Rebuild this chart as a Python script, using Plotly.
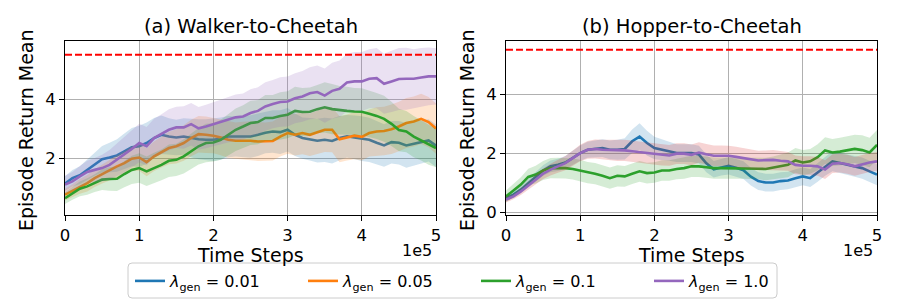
import plotly.graph_objects as go

# ---------------- data ----------------
steps = [i * 10000 for i in range(51)]
target_return = 5.5

legend_names = ["0.01", "0.05", "0.1", "1.0"]

# (a) Walker-to-Cheetah
walker_blue = [1.13, 1.32, 1.42, 1.60, 1.80, 1.96, 2.02, 2.09, 2.23, 2.37, 2.40, 2.51, 2.68, 2.79, 2.73,
               2.70, 2.73, 2.68, 2.64, 2.62, 2.62, 2.66, 2.73, 2.73, 2.72, 2.73, 2.79, 2.86, 2.90, 2.88,
               2.96, 2.79, 2.68, 2.64, 2.59, 2.62, 2.58, 2.68, 2.74, 2.70, 2.66, 2.62, 2.52, 2.43, 2.54,
               2.52, 2.43, 2.48, 2.55, 2.60, 2.42]
walker_orange = [0.76, 0.89, 1.04, 1.15, 1.32, 1.46, 1.60, 1.72, 1.83, 1.98, 2.02, 1.86, 2.06, 2.20, 2.34,
                 2.40, 2.51, 2.68, 2.81, 2.79, 2.76, 2.70, 2.62, 2.59, 2.59, 2.59, 2.56, 2.56, 2.58, 2.73,
                 2.85, 2.79, 2.85, 2.79, 2.88, 2.96, 2.96, 2.64, 2.70, 2.76, 2.72, 2.85, 2.90, 2.92, 2.98,
                 3.07, 3.19, 3.24, 3.33, 3.22, 3.00]
walker_green = [0.64, 0.81, 0.96, 1.04, 1.15, 1.27, 1.29, 1.30, 1.46, 1.60, 1.66, 1.55, 1.66, 1.77, 1.91,
                1.94, 2.06, 2.23, 2.40, 2.51, 2.53, 2.62, 2.79, 2.96, 3.07, 3.19, 3.22, 3.36, 3.36, 3.43,
                3.47, 3.60, 3.56, 3.57, 3.66, 3.72, 3.66, 3.62, 3.60, 3.58, 3.57, 3.50, 3.43, 3.33, 3.16,
                2.95, 2.90, 2.73, 2.60, 2.45, 2.34]
walker_purple = [1.10, 1.21, 1.38, 1.53, 1.60, 1.66, 1.77, 1.94, 2.11, 2.31, 2.51, 2.40, 2.68, 2.81, 2.96,
                 3.04, 3.04, 3.15, 3.01, 3.07, 3.15, 3.22, 3.30, 3.38, 3.41, 3.53, 3.60, 3.75, 3.83, 3.90,
                 3.92, 4.03, 4.09, 4.20, 4.24, 4.12, 4.28, 4.35, 4.56, 4.60, 4.60, 4.69, 4.71, 4.52, 4.60,
                 4.68, 4.69, 4.69, 4.73, 4.77, 4.77]

walker_blue_std = [0.25, 0.28, 0.30, 0.35, 0.40, 0.45, 0.50, 0.55, 0.60, 0.65, 0.70, 0.70, 0.68, 0.65, 0.62,
                   0.60, 0.62, 0.65, 0.68, 0.70, 0.72, 0.72, 0.70, 0.68, 0.70, 0.72, 0.72, 0.70, 0.72, 0.74,
                   0.74, 0.72, 0.70, 0.72, 0.74, 0.75, 0.76, 0.75, 0.72, 0.74, 0.76, 0.75, 0.74, 0.72, 0.72,
                   0.74, 0.76, 0.75, 0.74, 0.72, 0.72]
walker_orange_std = [0.20, 0.22, 0.25, 0.28, 0.30, 0.32, 0.35, 0.38, 0.40, 0.42, 0.45, 0.48, 0.50, 0.52, 0.55,
                     0.58, 0.60, 0.62, 0.62, 0.62, 0.60, 0.60, 0.62, 0.62, 0.64, 0.66, 0.66, 0.65, 0.66, 0.68,
                     0.70, 0.70, 0.72, 0.72, 0.74, 0.75, 0.76, 0.78, 0.78, 0.80, 0.80, 0.80, 0.82, 0.82, 0.84,
                     0.84, 0.85, 0.85, 0.85, 0.85, 0.85]
walker_green_std = [0.20, 0.22, 0.25, 0.28, 0.30, 0.35, 0.40, 0.42, 0.45, 0.48, 0.50, 0.50, 0.52, 0.52, 0.55,
                    0.55, 0.58, 0.60, 0.62, 0.65, 0.65, 0.68, 0.70, 0.72, 0.72, 0.75, 0.75, 0.78, 0.78, 0.80,
                    0.80, 0.82, 0.82, 0.82, 0.82, 0.85, 0.85, 0.82, 0.82, 0.80, 0.80, 0.80, 0.78, 0.78, 0.75,
                    0.72, 0.70, 0.70, 0.68, 0.68, 0.65]
walker_purple_std = [0.30, 0.32, 0.35, 0.38, 0.40, 0.45, 0.50, 0.55, 0.60, 0.62, 0.65, 0.65, 0.65, 0.68, 0.70,
                     0.70, 0.72, 0.72, 0.72, 0.74, 0.75, 0.76, 0.76, 0.78, 0.78, 0.80, 0.80, 0.82, 0.82, 0.84,
                     0.85, 0.85, 0.86, 0.88, 0.90, 0.92, 0.95, 0.96, 0.98, 1.00, 1.00, 1.00, 1.02, 1.02, 1.04,
                     1.05, 1.05, 1.00, 1.00, 0.98, 0.95]

# (b) Hopper-to-Cheetah
hopper_blue = [0.47, 0.59, 0.76, 0.98, 1.19, 1.41, 1.55, 1.60, 1.68, 1.83, 2.00, 2.11, 2.14, 2.17, 2.11,
               2.11, 2.14, 2.40, 2.56, 2.34, 2.17, 2.11, 2.06, 2.00, 2.00, 2.00, 1.95, 1.65, 1.45, 1.52,
               1.57, 1.50, 1.42, 1.20, 1.05, 1.00, 1.00, 1.05, 1.07, 1.15, 1.21, 1.15, 1.35, 1.55, 1.72,
               1.66, 1.60, 1.55, 1.49, 1.38, 1.27]
hopper_green = [0.53, 0.73, 0.93, 1.19, 1.27, 1.41, 1.49, 1.49, 1.49, 1.46, 1.41, 1.34, 1.30, 1.23, 1.15,
                1.23, 1.21, 1.30, 1.38, 1.32, 1.34, 1.41, 1.41, 1.46, 1.49, 1.55, 1.55, 1.52, 1.49, 1.49,
                1.49, 1.49, 1.49, 1.49, 1.47, 1.46, 1.50, 1.55, 1.60, 1.75, 1.68, 1.72, 1.86, 2.09, 2.02,
                2.05, 2.09, 2.14, 2.10, 2.02, 2.28]
hopper_purple = [0.42, 0.53, 0.70, 0.89, 1.10, 1.30, 1.44, 1.55, 1.66, 1.83, 2.00, 2.11, 2.14, 2.11, 2.11,
                 2.09, 2.09, 2.06, 2.03, 2.00, 1.98, 1.94, 1.92, 1.98, 1.98, 1.94, 2.02, 1.96, 1.91, 1.91,
                 1.91, 1.87, 1.83, 1.79, 1.75, 1.76, 1.77, 1.74, 1.72, 1.60, 1.57, 1.57, 1.55, 1.44, 1.64,
                 1.66, 1.62, 1.55, 1.62, 1.68, 1.72]

hopper_blue_std = [0.10, 0.11, 0.12, 0.14, 0.16, 0.18, 0.20, 0.21, 0.22, 0.24, 0.26, 0.27, 0.28, 0.30, 0.32,
                   0.34, 0.36, 0.40, 0.45, 0.42, 0.38, 0.35, 0.32, 0.30, 0.30, 0.30, 0.30, 0.30, 0.28, 0.28,
                   0.30, 0.30, 0.30, 0.30, 0.30, 0.30, 0.30, 0.30, 0.30, 0.30, 0.30, 0.30, 0.32, 0.32, 0.34,
                   0.34, 0.35, 0.35, 0.36, 0.36, 0.36]
hopper_green_std = [0.20, 0.22, 0.25, 0.28, 0.30, 0.32, 0.34, 0.35, 0.35, 0.36, 0.36, 0.36, 0.36, 0.36, 0.36,
                    0.36, 0.35, 0.35, 0.35, 0.35, 0.35, 0.35, 0.35, 0.35, 0.36, 0.36, 0.36, 0.36, 0.36, 0.36,
                    0.36, 0.36, 0.36, 0.36, 0.36, 0.38, 0.38, 0.40, 0.42, 0.42, 0.42, 0.42, 0.44, 0.45, 0.46,
                    0.47, 0.48, 0.48, 0.50, 0.50, 0.50]
hopper_purple_std = [0.10, 0.10, 0.12, 0.14, 0.16, 0.18, 0.20, 0.22, 0.24, 0.26, 0.28, 0.30, 0.32, 0.34, 0.35,
                     0.36, 0.36, 0.36, 0.36, 0.36, 0.36, 0.36, 0.35, 0.35, 0.35, 0.35, 0.35, 0.35, 0.35, 0.35,
                     0.34, 0.34, 0.34, 0.34, 0.33, 0.33, 0.33, 0.33, 0.32, 0.32, 0.32, 0.32, 0.32, 0.32, 0.32,
                     0.32, 0.32, 0.32, 0.32, 0.32, 0.32]

x_tick_vals = [0, 100000, 200000, 300000, 400000, 500000]
x_tick_text = ["0", "1", "2", "3", "4", "5"]

# ---------------- styling ----------------
BLUE, ORANGE, GREEN, PURPLE, RED = "#1f77b4", "#ff7f0e", "#2ca02c", "#9467bd", "#d62728"
FONT = "DejaVu Sans"


def rgba(hexc, a):
    h = hexc.lstrip("#")
    return f"rgba({int(h[0:2],16)},{int(h[2:4],16)},{int(h[4:6],16)},{a})"


fig = go.Figure()


def add_series(xa, ya, mean, std, line_color, band_color, name, show):
    upper = [m + s for m, s in zip(mean, std)]
    lower = [m - s for m, s in zip(mean, std)]
    fig.add_trace(go.Scatter(
        x=steps + steps[::-1], y=upper + lower[::-1], xaxis=xa, yaxis=ya,
        fill="toself", fillcolor=rgba(band_color, 0.2), line=dict(width=0),
        mode="lines", hoverinfo="skip", showlegend=False))
    fig.add_trace(go.Scatter(
        x=steps, y=mean, xaxis=xa, yaxis=ya, mode="lines",
        line=dict(color=line_color, width=2.6),
        name=f"<i>λ</i><sub>gen</sub> = {name}", showlegend=show))


add_series("x", "y", walker_blue, walker_blue_std, BLUE, BLUE, legend_names[0], True)
add_series("x", "y", walker_orange, walker_orange_std, ORANGE, ORANGE, legend_names[1], True)
add_series("x", "y", walker_green, walker_green_std, GREEN, GREEN, legend_names[2], True)
add_series("x", "y", walker_purple, walker_purple_std, PURPLE, PURPLE, legend_names[3], True)

add_series("x2", "y2", hopper_blue, hopper_blue_std, BLUE, BLUE, legend_names[0], False)
add_series("x2", "y2", hopper_green, hopper_green_std, GREEN, GREEN, legend_names[2], False)
add_series("x2", "y2", hopper_purple, hopper_purple_std, PURPLE, RED, legend_names[3], False)

for xa, ya in (("x", "y"), ("x2", "y2")):
    fig.add_trace(go.Scatter(
        x=[steps[0], steps[-1]], y=[target_return, target_return], xaxis=xa, yaxis=ya,
        mode="lines", line=dict(color="red", width=2, dash="7px,3px"),
        hoverinfo="skip", showlegend=False))

W, H = 900, 300
left_dom = [65 / W, 436 / W]
right_dom = [506 / W, 877 / W]
y_dom = [1 - 215 / H, 1 - 41 / H]

axis_common = dict(
    showline=True, mirror=True, linecolor="black", linewidth=1,
    showgrid=True, gridcolor="#b0b0b0", gridwidth=1,
    ticks="outside", ticklen=5, tickcolor="black", tickwidth=1,
    tickfont=dict(family=FONT, size=16.5, color="black"),
    zeroline=False, automargin=False,
)

# legend frame (rounded box, as drawn by the reference)
bx0, bx1, by0, by1, rr = 128 / W, 777 / W, 1 - 298 / H, 1 - 263 / H, 4
rx, ry = rr / W, rr / H
box_path = (f"M{bx0 + rx},{by0} L{bx1 - rx},{by0} Q{bx1},{by0} {bx1},{by0 + ry} "
            f"L{bx1},{by1 - ry} Q{bx1},{by1} {bx1 - rx},{by1} L{bx0 + rx},{by1} "
            f"Q{bx0},{by1} {bx0},{by1 - ry} L{bx0},{by0 + ry} Q{bx0},{by0} {bx0 + rx},{by0} Z")

fig.update_layout(
    width=W, height=H,
    margin=dict(l=0, r=0, t=0, b=0, autoexpand=False),
    paper_bgcolor="white", plot_bgcolor="white",
    font=dict(family=FONT, color="black"),
    xaxis=dict(domain=left_dom, range=[0, 500000], anchor="y",
               tickvals=x_tick_vals, ticktext=x_tick_text, **axis_common),
    yaxis=dict(domain=y_dom, range=[0.07, 5.97], anchor="x",
               tickvals=[2, 4], **axis_common),
    xaxis2=dict(domain=right_dom, range=[0, 500000], anchor="y2",
                tickvals=x_tick_vals, ticktext=x_tick_text, **axis_common),
    yaxis2=dict(domain=y_dom, range=[-0.1, 5.8], anchor="x2",
                tickvals=[0, 2, 4], **axis_common),
    legend=dict(orientation="h", x=130 / W, xanchor="left", y=1 - 264 / H, yanchor="top",
                borderwidth=0, bgcolor="rgba(0,0,0,0)",
                font=dict(family=FONT, size=16, color="black"),
                itemwidth=30, entrywidth=128, entrywidthmode="pixels",
                tracegroupgap=0),
    shapes=[dict(type="path", xref="paper", yref="paper", path=box_path,
                 line=dict(color="#cccccc", width=1), fillcolor="white", layer="above")],
)

title_font = dict(family=FONT, size=19.5, color="black")
label_font = dict(family=FONT, size=19, color="black")
annotations = [
    dict(text="(a) Walker-to-Cheetah", x=(left_dom[0] + left_dom[1]) / 2, y=1 - 27 / H, font=title_font),
    dict(text="(b) Hopper-to-Cheetah", x=(right_dom[0] + right_dom[1]) / 2, y=1 - 27 / H, font=title_font),
    dict(text="Time Steps", x=(left_dom[0] + left_dom[1]) / 2, y=1 - 255 / H, font=label_font),
    dict(text="Time Steps", x=(right_dom[0] + right_dom[1]) / 2, y=1 - 255 / H, font=label_font),
]
for a in annotations:
    fig.add_annotation(xref="paper", yref="paper", showarrow=False,
                       xanchor="center", yanchor="middle", **a)

for xc in (26 / W, 467 / W):
    fig.add_annotation(text="Episode Return Mean", xref="paper", yref="paper",
                       x=xc, y=1 - 130 / H, textangle=-90, showarrow=False,
                       xanchor="center", yanchor="middle", font=label_font)

for xr in (434 / W, 875 / W):
    fig.add_annotation(text="1e5", xref="paper", yref="paper", x=xr, y=1 - 250 / H,
                       showarrow=False, xanchor="right", yanchor="middle",
                       font=dict(family=FONT, size=16, color="black"))

fig.write_html("out.html", config={"displayModeBar": False},
               post_script="document.body.style.margin='0px';document.body.style.overflow='hidden';")
